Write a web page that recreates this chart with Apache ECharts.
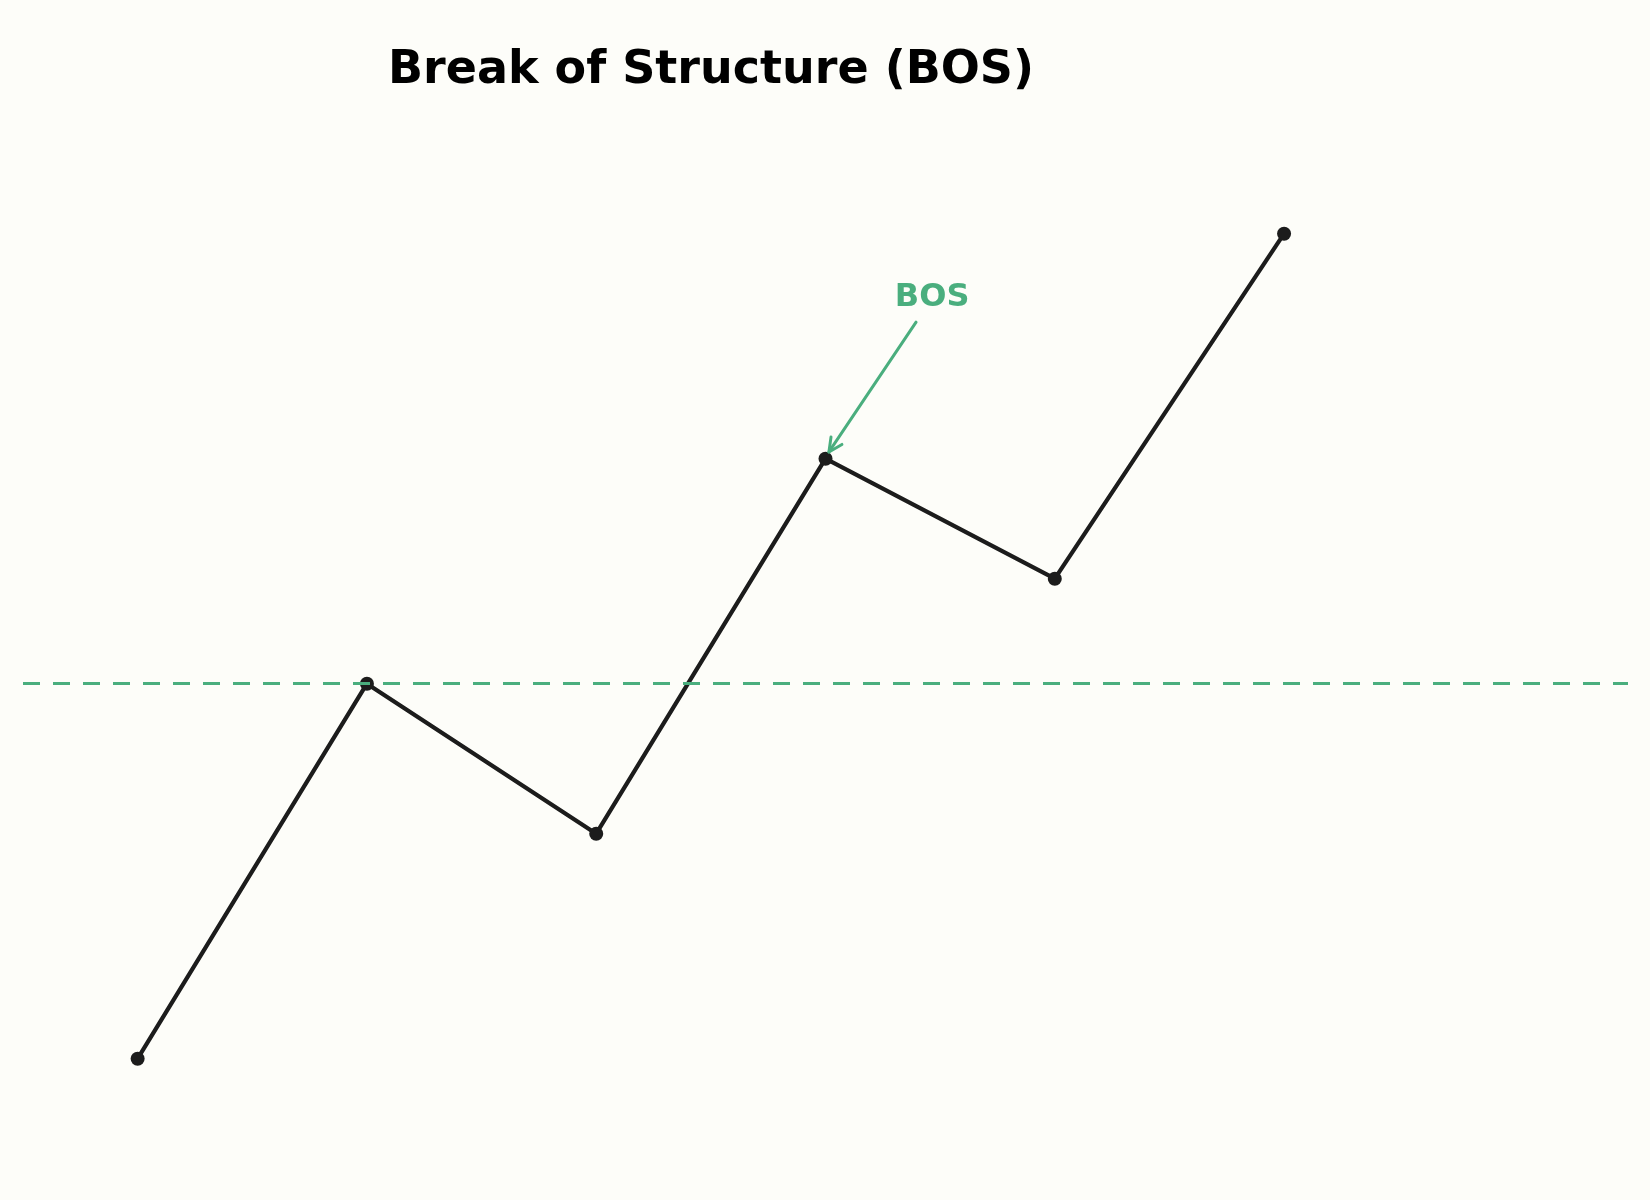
<!DOCTYPE html>
<html>
<head>
<meta charset="utf-8">
<title>Break of Structure (BOS)</title>
<script src="https://cdn.jsdelivr.net/npm/echarts@6/dist/echarts.min.js"></script>
<style>
    html, body { margin: 0; padding: 0; background: #fdfdf9; }
    #chart { width: 1650px; height: 1200px; }
</style>
</head>
<body>
<div id="chart"></div>
<script>
// --- DATA ---
const swingIndex = [0, 1, 2, 3, 4, 5];
const swingPrice = [0, 5, 3, 8, 6.4, 11];
const bosLevel = 5;                          // previous swing high that gets broken
const bosLabel = 'BOS';
const bosTextPos = [3.465, 10.15];           // where the label sits (data units)
const bosArrow = [[3.395, 9.82], [3.015, 8.09]]; // arrow start -> tip (data units)

const GREEN = '#4aae7e';
const INK = '#1c1c1c';

const chart = echarts.init(document.getElementById('chart'));

chart.setOption({
    backgroundColor: '#fdfdf9',
    animation: false,
    title: {
        text: 'Break of Structure (BOS)',
        left: 706,
        top: 43,
        textAlign: 'center',
        textStyle: { fontFamily: 'DejaVu Sans', fontWeight: 'bold', fontSize: 46, color: '#000' }
    },
    grid: { left: 23, right: 22, top: 158.7, bottom: 66.3 },
    xAxis: { type: 'value', min: -0.5, max: 6.5, show: false },
    yAxis: { type: 'value', min: -1, max: 12, show: false },
    series: [
        {
            name: 'Price',
            type: 'line',
            data: swingIndex.map((x, i) => [x, swingPrice[i]]),
            symbol: 'circle',
            symbolSize: 14,
            lineStyle: { color: INK, width: 4.2 },
            itemStyle: { color: INK },
            z: 3,
            markLine: {
                silent: true,
                symbol: 'none',
                label: { show: false },
                lineStyle: { color: GREEN, width: 3, type: [17, 13], opacity: 1 },
                data: [{ yAxis: bosLevel }]
            }
        },
        {
            // annotation: label + open arrow pointing to the break
            type: 'custom',
            silent: true,
            z: 5,
            data: [[bosArrow[0][0], bosArrow[0][1], bosArrow[1][0], bosArrow[1][1], bosTextPos[0], bosTextPos[1]]],
            renderItem: (params, api) => {
                const s = api.coord([api.value(0), api.value(1)]);
                const t = api.coord([api.value(2), api.value(3)]);
                const lp = api.coord([api.value(4), api.value(5)]);
                const ang = Math.atan2(s[1] - t[1], s[0] - t[0]);
                const len = 15, spread = 26 * Math.PI / 180;
                const a1 = [t[0] + len * Math.cos(ang - spread), t[1] + len * Math.sin(ang - spread)];
                const a2 = [t[0] + len * Math.cos(ang + spread), t[1] + len * Math.sin(ang + spread)];
                const st = { stroke: GREEN, lineWidth: 3, lineCap: 'round', lineJoin: 'round', fill: null };
                return {
                    type: 'group',
                    children: [
                        { type: 'line', shape: { x1: s[0], y1: s[1], x2: t[0], y2: t[1] }, style: st },
                        { type: 'polyline', shape: { points: [a1, t, a2] }, style: st },
                        {
                            type: 'text',
                            x: lp[0], y: lp[1],
                            style: {
                                text: bosLabel, fill: GREEN,
                                font: 'bold 32px "DejaVu Sans"',
                                align: 'center', verticalAlign: 'middle'
                            }
                        }
                    ]
                };
            }
        }
    ]
});
</script>
</body>
</html>
